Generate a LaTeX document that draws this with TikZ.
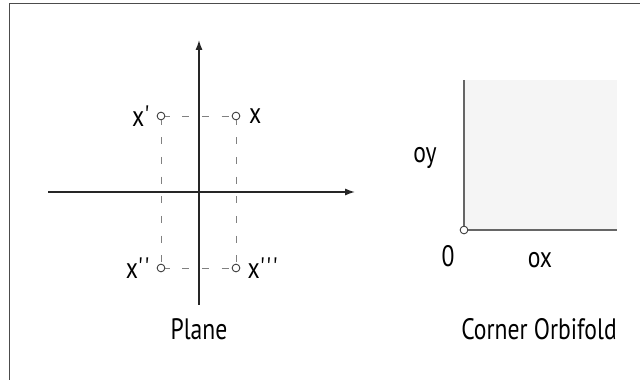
\documentclass[tikz,border=0pt]{standalone}
\usepackage{fontspec}
\setmainfont{PT Sans}[FakeStretch=0.8]
\usetikzlibrary{arrows.meta, positioning}

\begin{document}
\begin{tikzpicture}[
  x=0.025cm, y=-0.025cm,
  pt/.style={circle, draw=black!80, fill=white, inner sep=0pt, minimum size=5.5pt, line width=0.6pt},
  axis/.style={draw=black!85, line width=1pt, -{Latex[length=7pt, width=5pt]}},
  guide/.style={draw=black!50, line width=0.6pt, dash pattern=on 5pt off 9pt, dash phase=2pt},
  edge/.style={draw=black!60, line width=1.1pt},
  lbl/.style={font=\fontsize{21}{24}\selectfont, inner sep=1pt},
]
  \useasboundingbox (0,0) rectangle (640,380);
  \draw[edge, black!70] (9.5,380) -- (9.5,3.5) -- (640,3.5);

  % plane
  \coordinate (xl) at (48,192);
  \coordinate (xr) at (355,192);
  \coordinate (yb) at (199,305);
  \coordinate (yt) at (199,40);
  \draw[axis] (xl) -- (xr);
  \draw[axis] (yb) -- (yt);

  \node[pt] (p2) at (161,116) {};
  \node[pt] (p1) at (236,116) {};
  \node[pt] (p3) at (161,268) {};
  \node[pt] (p4) at (236,268) {};
  \draw[guide] (p2) -- (p1);
  \draw[guide] (p3) -- (p4);
  \draw[guide] (p2) -- (p3);
  \draw[guide] (p1) -- (p4);

  \node[lbl, left=3pt of p2] {x\textquotesingle};
  \node[lbl, right=5pt of p1] {x};
  \node[lbl, left=3pt of p3] {x\textquotesingle\textquotesingle};
  \node[lbl, right=4pt of p4] {x\textquotesingle\textquotesingle\textquotesingle};
  \node[lbl] (plane) at (199,329) {Plane};

  % corner orbifold
  \fill[black!4] (464,80) rectangle (617,230);
  \coordinate (ytop) at (464,80);
  \coordinate (xend) at (617,230);
  \node[pt] (o) at (464,230) {};
  \draw[edge] (ytop) -- (o.north);
  \draw[edge] (o.east) -- (xend);
  \node[lbl] (oy) at (425,158) {oy};
  \node[lbl] (zero) at (448,256) {0};
  \node[lbl] (ox) at (540,260) {ox};
  \node[lbl] (orb) at (539,329) {Corner Orbifold};
\end{tikzpicture}
\end{document}
